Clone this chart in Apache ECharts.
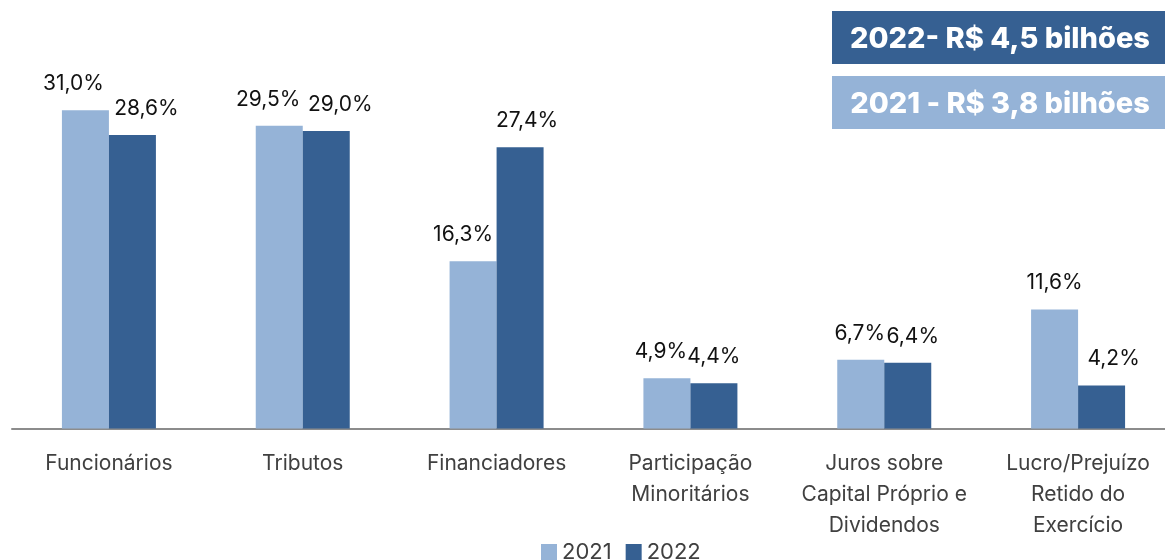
<!DOCTYPE html>
<html>
<head>
<meta charset="utf-8">
<script src="https://cdn.jsdelivr.net/npm/echarts@6/dist/echarts.min.js"></script>
<style>
  html, body { margin: 0; padding: 0; background: #ffffff; }
  #chart { width: 1165px; height: 560px; }
</style>
</head>
<body>
<div id="chart"></div>
<script>
// Distribution of value added, share per stakeholder (%)
const categories = [
  'Funcionários',
  'Tributos',
  'Financiadores',
  'Participação\nMinoritários',
  'Juros sobre\nCapital Próprio e\nDividendos',
  'Lucro/Prejuízo\nRetido do\nExercício'
];
const values2021 = [31.0, 29.5, 16.3, 4.9, 6.7, 11.6];
const values2022 = [28.6, 29.0, 27.4, 4.4, 6.4, 4.2];
const seriesNames = ['2021', '2022'];
const totals = ['2022- R$ 4,5 bilhões', '2021 - R$ 3,8 bilhões'];

// horizontal nudges so neighbouring labels don't collide
const shift2021 = [-12, -11, -10, -6, -1, 0];
const shift2022 = [14, 14, 7, 0, 5, 12];

const LIGHT = '#95B3D7';
const DARK = '#366092';
const FONT = 'Inter, "Open Sans", sans-serif';

const fmt = v => v.toFixed(1).replace('.', ',') + '%';

function build(values, shifts) {
  return values.map((v, i) => ({
    value: v,
    label: { offset: [shifts[i], 0] }
  }));
}

const valueLabel = {
  show: true,
  position: 'top',
  distance: 16,
  formatter: p => fmt(p.value),
  fontSize: 21,
  color: '#111111',
  fontFamily: FONT
};

const chart = echarts.init(document.getElementById('chart'), null, { renderer: 'canvas' });

chart.setOption({
  animation: false,
  textStyle: { fontFamily: FONT },
  grid: {
    left: 12, width: 1163, top: 18, height: 410.5,
    containLabel: false,
    outerBoundsMode: 'none'
  },
  legend: {
    data: seriesNames,
    top: 536,
    left: 536,
    itemWidth: 16,
    itemHeight: 16,
    itemGap: 14,
    icon: 'rect',
    textStyle: { fontSize: 22, color: '#404040', fontFamily: FONT }
  },
  xAxis: {
    type: 'category',
    data: categories,
    axisTick: { show: false },
    axisLine: { lineStyle: { color: '#8c8c8c', width: 2 } },
    axisLabel: {
      interval: 0,
      margin: 20,
      fontSize: 21,
      lineHeight: 31,
      color: '#404040',
      fontFamily: FONT
    }
  },
  yAxis: {
    type: 'value',
    min: 0,
    max: 40,
    show: false,
    splitLine: { show: false }
  },
  series: [
    {
      name: seriesNames[0],
      type: 'bar',
      data: build(values2021, shift2021),
      barWidth: 47,
      barGap: '0%',
      itemStyle: { color: LIGHT },
      label: valueLabel
    },
    {
      name: seriesNames[1],
      type: 'bar',
      data: build(values2022, shift2022),
      barWidth: 47,
      itemStyle: { color: DARK },
      label: valueLabel
    }
  ],
  graphic: [
    {
      type: 'group',
      left: 832,
      top: 11,
      children: [
        { type: 'rect', shape: { x: 0, y: 0, width: 333, height: 53 }, style: { fill: DARK } },
        {
          type: 'text',
          x: 168, y: 28,
          style: {
            text: totals[0],
            fill: '#ffffff',
            font: '800 29px ' + FONT,
            align: 'center',
            verticalAlign: 'middle'
          }
        }
      ]
    },
    {
      type: 'group',
      left: 832,
      top: 76,
      children: [
        { type: 'rect', shape: { x: 0, y: 0, width: 333, height: 53 }, style: { fill: LIGHT } },
        {
          type: 'text',
          x: 168, y: 28,
          style: {
            text: totals[1],
            fill: '#ffffff',
            font: '800 29px ' + FONT,
            align: 'center',
            verticalAlign: 'middle'
          }
        }
      ]
    }
  ]
});
</script>
</body>
</html>
